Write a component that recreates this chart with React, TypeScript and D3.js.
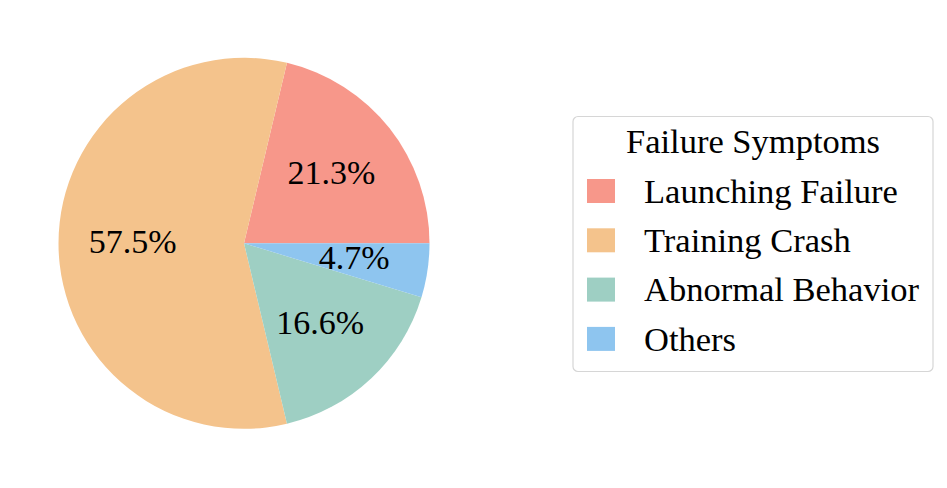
import React from 'react';
import * as d3 from 'd3';

const categories = ['Launching Failure', 'Training Crash', 'Abnormal Behavior', 'Others'];
const shares = [21.3, 57.5, 16.6, 4.7];
const colors = ['#f7978a', '#f4c38c', '#9ecfc3', '#8ec5ef'];
const legendTitle = 'Failure Symptoms';

const width = 947;
const height = 488;
const font = "'Liberation Serif', 'Times New Roman', Times, serif";
const fs = 34.5;

export default function App() {
  const cx = 244;
  const cy = 243.3;
  const r = 185.5;

  // matplotlib style: start at 3 o'clock and go counterclockwise
  const pie = d3.pie<number>().sort(null).value(d => d)
    .startAngle(Math.PI / 2).endAngle(Math.PI / 2 - 2 * Math.PI);
  const arcs = pie(shares);
  const arc = d3.arc<d3.PieArcDatum<number>>().innerRadius(0).outerRadius(r);
  const labelArc = d3.arc<d3.PieArcDatum<number>>().innerRadius(r * 0.6).outerRadius(r * 0.6);

  // legend layout
  const lx = 573, ly = 116.5, lw = 360, lh = 255;
  const rowY = d3.scaleLinear().domain([0, 1]).range([191, 240.3]);

  return (
    <svg width={width} height={height} style={{ position: 'absolute', left: 0, top: 0, background: 'white', fontFamily: font }}>
      <g transform={`translate(${cx},${cy})`}>
        {arcs.map((a, i) => (
          <path key={categories[i]} d={arc(a) || ''} fill={colors[i]} />
        ))}
        {arcs.map((a, i) => {
          const [x, y] = labelArc.centroid(a);
          return (
            <text key={'l' + i} x={x} y={y + 9.7} textAnchor="middle"
              style={{ fontFamily: font, fontSize: 34 }} fill="black">
              {a.data.toFixed(1) + '%'}
            </text>
          );
        })}
      </g>
      <g>
        <rect x={lx} y={ly} width={lw} height={lh} rx={5} ry={5}
          fill="white" stroke="#d6d6d6" strokeWidth={1.2} />
        <text x={lx + lw / 2} y={153} textAnchor="middle" style={{ fontFamily: font, fontSize: fs }}>
          {legendTitle}
        </text>
        {categories.map((c, i) => (
          <g key={c}>
            <rect x={587} y={rowY(i) - 12} width={28} height={24} fill={colors[i]} />
            <text x={644} y={rowY(i) + 11.7} style={{ fontFamily: font, fontSize: fs }}>{c}</text>
          </g>
        ))}
      </g>
    </svg>
  );
}
